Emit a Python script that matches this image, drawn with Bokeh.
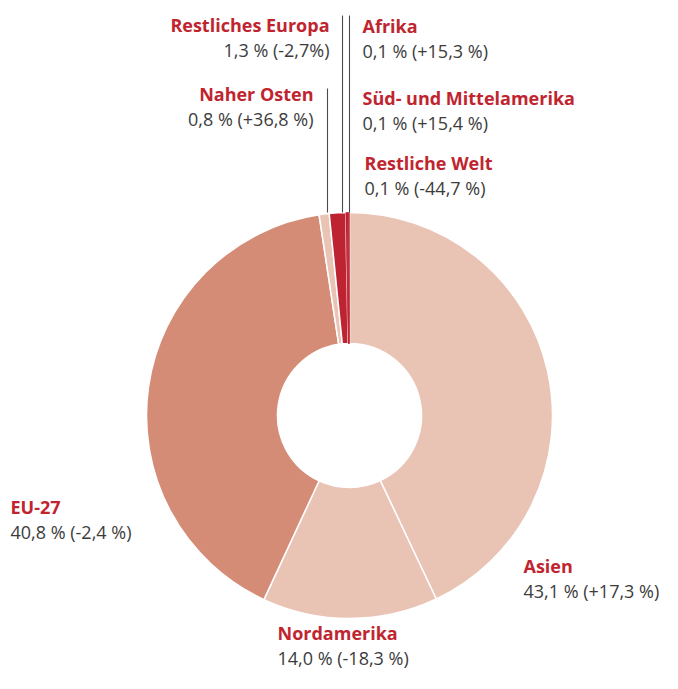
import math
from bokeh.plotting import figure
from bokeh.models import ColumnDataSource, Range1d
from bokeh.core.properties import value
from bokeh.embed import file_html
from bokeh.resources import INLINE

# ---- data ----
regions = ["Asien", "Nordamerika", "EU-27", "Naher Osten", "Restliches Europa",
           "Afrika", "Süd- und Mittelamerika", "Restliche Welt"]
shares = [43.1, 14.0, 40.8, 0.8, 1.3, 0.1, 0.1, 0.1]
changes = ["+17,3 %", "-18,3 %", "-2,4 %", "+36,8 %", "-2,7%", "+15,3 %", "+15,4 %", "-44,7 %"]
colors = ["#E9C4B5", "#E9C4B5", "#D48C77", "#E9C4B5", "#BE2331",
          "#BE2331", "#BE2331", "#BE2331"]

W, H = 662, 673
LABEL_RED = "#C0252F"
GREY = "#3C3C3C"
FONT = "Open Sans"
TEXT_DY = 8  # renderer places alphabetic baseline slightly low

p = figure(width=W, height=H, output_backend="svg", toolbar_location=None,
           x_range=Range1d(0, W), y_range=Range1d(0, H), min_border=0)
p.axis.visible = False
p.grid.visible = False
p.outline_line_color = None
p.background_fill_color = "white"
p.border_fill_color = "white"

def Y(py):
    return H - py

cx, cy = 349, Y(415)
r_out, r_in = 203, 72
total = sum(shares)
starts, ends = [], []
cum = 0.0
for s in shares:
    starts.append(math.pi / 2 - cum / total * 2 * math.pi)
    cum += s
    ends.append(math.pi / 2 - cum / total * 2 * math.pi)

main = ColumnDataSource(dict(start=starts[:5], end=ends[:5], color=colors[:5]))
tiny = ColumnDataSource(dict(start=starts[5:], end=ends[5:], color=colors[5:]))
p.annular_wedge(x=cx, y=cy, inner_radius=r_in, outer_radius=r_out,
                start_angle="start", end_angle="end", direction="clock",
                fill_color="color", line_color="white", line_width=1.5, source=main)
p.annular_wedge(x=cx, y=cy, inner_radius=r_in, outer_radius=r_out,
                start_angle="start", end_angle="end", direction="clock",
                fill_color="color", line_color="color", line_width=0.5, source=tiny)

# leader lines (Naher Osten, Restliches Europa, small regions)
p.segment(x0=[327, 342, 349], y0=[Y(88), Y(15), Y(15)],
          x1=[327, 342, 349], y1=[Y(212), Y(212), Y(212)],
          line_color="#4A4A4A", line_width=1.1)

# label layout: x, title baseline (px from top), align
layout = {
    "Asien": (523, 573, "left"),
    "Nordamerika": (277, 640, "left"),
    "EU-27": (10, 514, "left"),
    "Naher Osten": (313, 101, "right"),
    "Restliches Europa": (329, 32, "right"),
    "Afrika": (362, 33, "left"),
    "Süd- und Mittelamerika": (362, 105, "left"),
    "Restliche Welt": (364, 170, "left"),
}

def fmt(v):
    return f"{v:.1f}".replace(".", ",")

for name, s, ch in zip(regions, shares, changes):
    x, yb, al = layout[name]
    p.text(x=[x], y=[Y(yb - TEXT_DY)], text=[name], text_font=value(FONT),
           text_font_style="bold", text_font_size="18px", text_color=LABEL_RED,
           text_align=al, text_baseline="alphabetic")
    p.text(x=[x], y=[Y(yb + 25 - TEXT_DY)], text=[f"{fmt(s)} % ({ch})"],
           text_font=value(FONT), text_font_size="18px", text_color=GREY,
           text_align=al, text_baseline="alphabetic")

open("out.html", "w").write(file_html(p, INLINE))
